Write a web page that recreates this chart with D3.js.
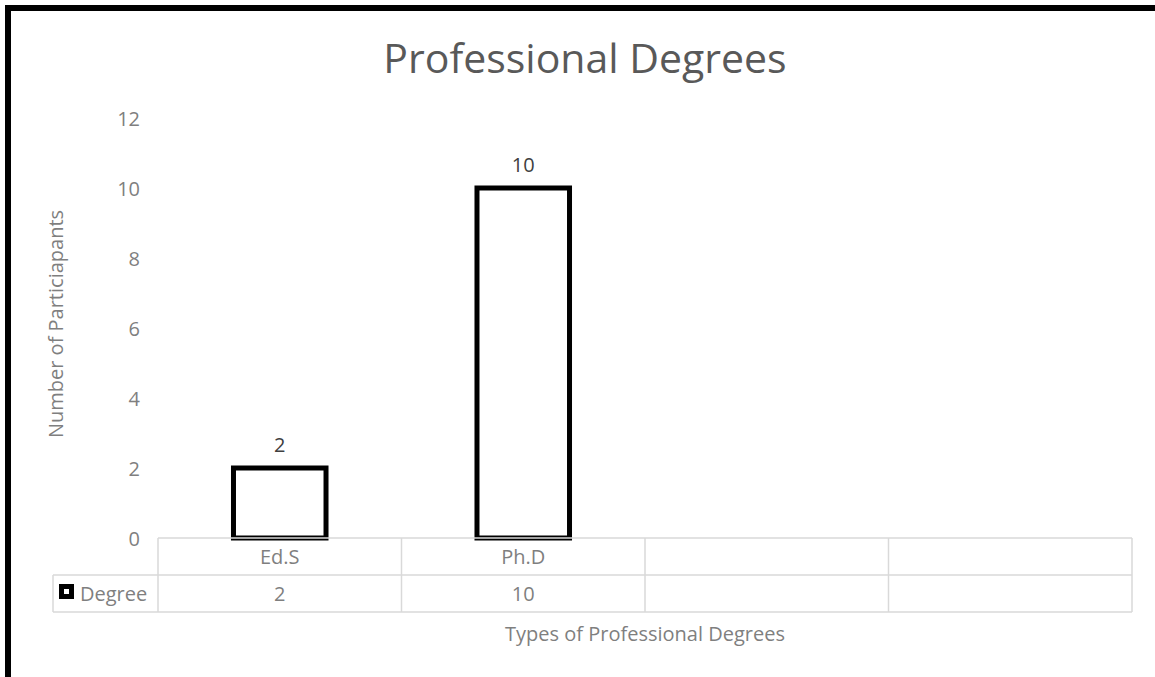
<!DOCTYPE html>
<html>
<head>
<meta charset="utf-8">
<script src="https://cdn.jsdelivr.net/npm/d3@7"></script>
<style>
  html, body { margin: 0; padding: 0; background: #fff; }
  svg { display: block; font-family: "Open Sans", "Noto Sans", sans-serif; }
</style>
</head>
<body>
<svg id="chart" width="1155" height="677"></svg>
<script>
// Chart data
const categories = ["Ed.S", "Ph.D", "", ""];
const seriesName = "Degree";
const values = [2, 10, null, null];
const yTicks = [0, 2, 4, 6, 8, 10, 12];
const titleText = "Professional Degrees";
const xTitleText = "Types of Professional Degrees";
const yTitleText = "Number of Particiapants";

const svg = d3.select("#chart");
const W = 1155, H = 677;
const textGray = "#7f7f7f";
const fs = 20;

// Outer frame (only top and left edges are visible in the window)
svg.append("rect")
  .attr("x", 8).attr("y", 8)
  .attr("width", W + 20).attr("height", H + 20)
  .attr("fill", "#fff").attr("stroke", "#000").attr("stroke-width", 6);

const plot = { left: 158, right: 1132, top: 118, bottom: 538 };
const rowH = 37;
const tableLeft = 53;

const x = d3.scaleBand().domain(d3.range(categories.length))
  .range([plot.left, plot.right]).paddingInner(0).paddingOuter(0);
const y = d3.scaleLinear().domain([0, 12]).range([plot.bottom, plot.top]);

// Title
svg.append("text")
  .attr("x", 585).attr("y", 73)
  .attr("text-anchor", "middle")
  .attr("font-size", 41).attr("fill", "#595959")
  .text(titleText);

// Y axis labels
const yAxis = d3.axisLeft(y).tickValues(yTicks).tickSize(0).tickPadding(0);
const yg = svg.append("g").attr("transform", `translate(${plot.left - 18},0)`).call(yAxis);
yg.select(".domain").remove();
yg.selectAll("text")
  .attr("font-family", "Open Sans, sans-serif")
  .attr("font-size", fs).attr("fill", textGray)
  .attr("dy", "0.35em");

// Y axis title
svg.append("text")
  .attr("transform", `translate(63,${(210 + 438) / 2}) rotate(-90)`)
  .attr("text-anchor", "middle")
  .attr("font-size", fs).attr("fill", textGray)
  .text(yTitleText);

// Bars
const barW = x.bandwidth() * 0.38;
svg.append("g").selectAll("rect")
  .data(values.map((v, i) => ({ v, i })).filter(d => d.v != null))
  .join("rect")
  .attr("x", d => x(d.i) + (x.bandwidth() - barW) / 2)
  .attr("y", d => y(d.v))
  .attr("width", barW)
  .attr("height", d => y(0) - y(d.v))
  .attr("fill", "#fff")
  .attr("stroke", "#000")
  .attr("stroke-width", 5);

// Data labels
svg.append("g").selectAll("text")
  .data(values.map((v, i) => ({ v, i })).filter(d => d.v != null))
  .join("text")
  .attr("x", d => x(d.i) + x.bandwidth() / 2)
  .attr("y", d => y(d.v) - 16)
  .attr("text-anchor", "middle")
  .attr("font-size", fs).attr("fill", "#404040")
  .text(d => d.v);

// Data table
const grid = svg.append("g").attr("stroke", "#d9d9d9").attr("stroke-width", 1.5).attr("fill", "none");
grid.append("line").attr("x1", plot.left).attr("x2", plot.right).attr("y1", plot.bottom).attr("y2", plot.bottom);
grid.append("line").attr("x1", tableLeft).attr("x2", plot.right).attr("y1", plot.bottom + rowH).attr("y2", plot.bottom + rowH);
grid.append("line").attr("x1", tableLeft).attr("x2", plot.right).attr("y1", plot.bottom + 2 * rowH).attr("y2", plot.bottom + 2 * rowH);
const edges = categories.map((c, i) => x(i)).concat([plot.right]);
edges.forEach(ex => {
  grid.append("line").attr("x1", ex).attr("x2", ex).attr("y1", plot.bottom).attr("y2", plot.bottom + 2 * rowH);
});
grid.append("line").attr("x1", tableLeft).attr("x2", tableLeft).attr("y1", plot.bottom + rowH).attr("y2", plot.bottom + 2 * rowH);

// Category labels (first table row)
svg.append("g").selectAll("text")
  .data(categories)
  .join("text")
  .attr("x", (d, i) => x(i) + x.bandwidth() / 2)
  .attr("y", plot.bottom + rowH / 2)
  .attr("dy", "0.35em")
  .attr("text-anchor", "middle")
  .attr("font-size", fs).attr("fill", textGray)
  .text(d => d);

// Value row
svg.append("g").selectAll("text")
  .data(values)
  .join("text")
  .attr("x", (d, i) => x(i) + x.bandwidth() / 2)
  .attr("y", plot.bottom + rowH * 1.5)
  .attr("dy", "0.35em")
  .attr("text-anchor", "middle")
  .attr("font-size", fs).attr("fill", textGray)
  .text(d => d == null ? "" : d);

// Legend key + series name
const keyY = plot.bottom + rowH * 1.5;
svg.append("rect")
  .attr("x", 61.5).attr("y", keyY - 7)
  .attr("width", 10).attr("height", 10)
  .attr("fill", "#fff").attr("stroke", "#000").attr("stroke-width", 5);
svg.append("text")
  .attr("x", 80).attr("y", keyY).attr("dy", "0.35em")
  .attr("font-size", fs).attr("fill", textGray)
  .text(seriesName);

// X axis title
svg.append("text")
  .attr("x", (plot.left + plot.right) / 2).attr("y", 641)
  .attr("text-anchor", "middle")
  .attr("font-size", fs).attr("fill", textGray)
  .text(xTitleText);
</script>
</body>
</html>
